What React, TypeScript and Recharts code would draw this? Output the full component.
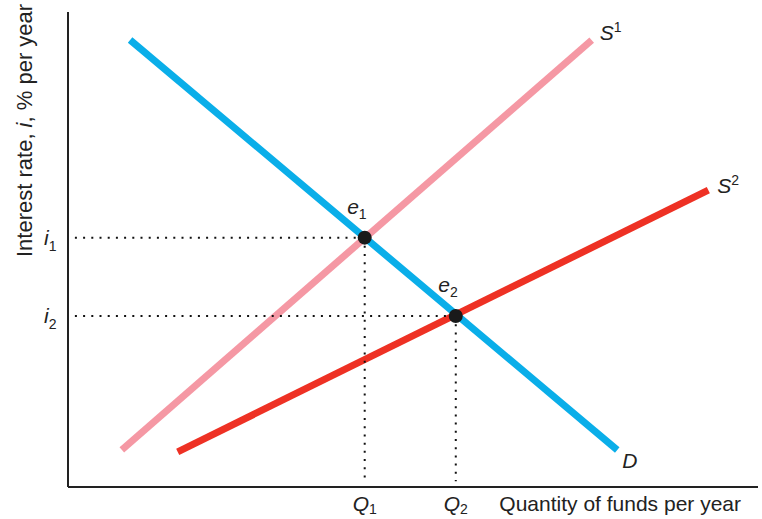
import { ComposedChart, Line, XAxis, YAxis, Scatter, LabelList } from "recharts";

// abstract units: quantity 0..100, rate 0..100
const demandD = [ { q: 9, r: 94.1 }, { q: 79.6, r: 7.8 } ];
const supplyS1 = [ { q: 7.8, r: 7.8 }, { q: 75.9, r: 94.1 } ];
const supplyS2 = [ { q: 15.9, r: 7.4 }, { q: 92.8, r: 62.5 } ];
const equilibria = [ { q: 43, r: 52.5, sub: "1" }, { q: 56.2, r: 36, sub: "2" } ];

const qTicks = [43, 56.2];
const qTickSubs = ["1", "2"];
const rTicks = [52.5, 36];
const rTickSubs = ["1", "2"];

const guideH1 = [ { q: 1, r: 52.5 }, { q: 43, r: 52.5 } ];
const guideV1 = [ { q: 43, r: 52.5 }, { q: 43, r: 1.2 } ];
const guideH2 = [ { q: 1, r: 36 }, { q: 56.2, r: 36 } ];
const guideV2 = [ { q: 56.2, r: 36 }, { q: 56.2, r: 1.2 } ];

const FONT = "'Liberation Sans', Arial, Helvetica, sans-serif";
const INK = "#222";

const XTick = ({ x, y, index }: any) => (
  <text x={x} y={y + 24} textAnchor="middle" fontFamily={FONT} fontSize={21} fill={INK}>
    <tspan fontStyle="italic">Q</tspan>
    <tspan fontSize={14} dy={3}>{qTickSubs[index]}</tspan>
  </text>
);

const YTick = ({ x, y, index }: any) => (
  <text x={x - 24} y={y + 7} textAnchor="start" fontFamily={FONT} fontSize={21} fill={INK}>
    <tspan fontStyle="italic">i</tspan>
    <tspan fontSize={14} dy={6}>{rTickSubs[index]}</tspan>
  </text>
);

// label drawn at the end point of a line
const endLabel = (name: string, sup: string, dx: number, dy: number) =>
  (props: any) => {
    const { x, y, index } = props;
    if (index !== 1) return null;
    return (
      <text x={x + dx} y={y + dy} fontFamily={FONT} fontSize={21} fill={INK}>
        <tspan fontStyle="italic">{name}</tspan>
        {sup && <tspan fontSize={14} dy={-8}>{sup}</tspan>}
      </text>
    );
  };

const EqLabel = (props: any) => {
  const { x, y, index } = props;
  const sub = equilibria[index].sub;
  return (
    <text x={x - 13} y={y - 19} fontFamily={FONT} fontSize={21} fill={INK}>
      <tspan fontStyle="italic">e</tspan>
      <tspan fontSize={14} dy={5}>{sub}</tspan>
    </text>
  );
};

const dotted = { stroke: "#111", strokeWidth: 2, strokeDasharray: "2 6.2", dot: false, isAnimationActive: false };

export default function App() {
  return (
    <div style={{ position: "absolute", left: 0, top: 0, background: "#fff" }}>
      <ComposedChart width={762} height={519} margin={{ top: 12, right: 4, bottom: 0, left: 0 }}>
        <XAxis
          type="number"
          dataKey="q"
          domain={[0, 100]}
          ticks={qTicks}
          tick={<XTick />}
          tickLine={false}
          tickSize={0}
          tickMargin={0}
          height={32}
          axisLine={{ stroke: INK, strokeWidth: 2 }}
          allowDuplicatedCategory={false}
          label={{
            content: ({ viewBox }: any) => (
              <text x={viewBox.x + viewBox.width - 17} y={viewBox.y + 24} textAnchor="end" fontFamily={FONT} fontSize={21} fill={INK}>
                Quantity of funds per year
              </text>
            ),
          }}
        />
        <YAxis
          type="number"
          dataKey="r"
          domain={[0, 100]}
          ticks={rTicks}
          tick={<YTick />}
          tickLine={false}
          tickSize={0}
          tickMargin={0}
          width={68}
          axisLine={{ stroke: INK, strokeWidth: 2 }}
          label={{
            content: () => (
              <text x={32} y={257} transform="rotate(-90, 32, 257)" fontFamily={FONT} fontSize={22} fill={INK}>
                Interest rate, <tspan fontStyle="italic">i</tspan>, % per year
              </text>
            ),
          }}
        />
        <Line data={supplyS1} dataKey="r" stroke="#f598a4" strokeWidth={7} dot={false} isAnimationActive={false}>
          <LabelList dataKey="r" content={endLabel("S", "1", 8, 0)} />
        </Line>
        <Line data={supplyS2} dataKey="r" stroke="#ee3124" strokeWidth={7} dot={false} isAnimationActive={false}>
          <LabelList dataKey="r" content={endLabel("S", "2", 9, 3)} />
        </Line>
        <Line data={demandD} dataKey="r" stroke="#0aaee9" strokeWidth={7} dot={false} isAnimationActive={false}>
          <LabelList dataKey="r" content={endLabel("D", "", 5, 18)} />
        </Line>
        <Line data={guideH1} dataKey="r" {...dotted} />
        <Line data={guideV1} dataKey="r" {...dotted} />
        <Line data={guideH2} dataKey="r" {...dotted} />
        <Line data={guideV2} dataKey="r" {...dotted} />
        <Scatter data={equilibria} dataKey="r" fill="#1a1a1a" isAnimationActive={false}
          shape={(p: any) => <circle cx={p.cx} cy={p.cy} r={7} fill="#1a1a1a" />}>
          <LabelList dataKey="r" content={EqLabel} />
        </Scatter>
      </ComposedChart>
    </div>
  );
}
